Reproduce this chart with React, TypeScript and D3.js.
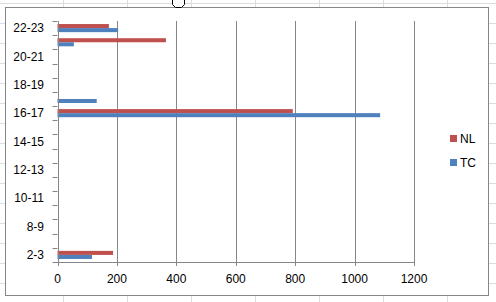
import React from "react";
import * as d3 from "d3";

const categories = ["2-3", "7-8", "8-9", "9-10", "10-11", "11-12", "12-13", "13-14", "14-15", "15-16", "16-17", "17-18", "18-19", "19-20", "20-21", "21-22", "22-23"];
const seriesTC = [116, 0, 0, 0, 0, 0, 0, 0, 0, 0, 1086, 132, 0, 0, 0, 55, 204];
const seriesNL = [187, 0, 0, 0, 0, 0, 0, 0, 0, 0, 792, 0, 0, 0, 0, 365, 173];
const xTicks = [0, 200, 400, 600, 800, 1000, 1200];
const seriesNames = ["NL", "TC"];

const W = 496;
const H = 302;
const RED = "#C0504D";
const BLUE = "#4F81BD";
const AXIS = "#868686";
const SHEET = "#DADCDD";
const FONT = "'Liberation Sans', Arial, sans-serif";

export default function App() {
  const left = 57.5;
  const right = 414;
  const top = 21;
  const bottom = 262;
  const x = d3.scaleLinear().domain([0, 1200]).range([left, right]);
  const y = d3.scaleBand<string>().domain(categories).range([bottom, top]).paddingInner(0).paddingOuter(0);
  const bw = y.bandwidth();
  const barH = bw / 3.5;

  const sheetCols = d3.range(-1, W + 64, 64);
  const sheetRows = d3.range(3, H, 20);

  const r = (v: number) => Math.round(v) + 0.5;

  return (
    <svg width={W} height={H} style={{ position: "absolute", left: 0, top: 0, background: "#fff" }} fontFamily={FONT}>
      {/* spreadsheet grid */}
      {sheetCols.map((c) => (
        <line key={"c" + c} x1={c + 0.5} x2={c + 0.5} y1={0} y2={H} stroke={SHEET} />
      ))}
      {sheetRows.map((rw) => (
        <line key={"r" + rw} x1={0} x2={W} y1={rw + 0.5} y2={rw + 0.5} stroke={SHEET} />
      ))}
      {/* chart area */}
      <rect x={5.5} y={7.5} width={483} height={288} fill="#fff" stroke={AXIS} />
      {/* gridlines */}
      {xTicks.map((t) => (
        <line key={"g" + t} x1={r(x(t))} x2={r(x(t))} y1={top} y2={bottom + 4} stroke={AXIS} />
      ))}
      {/* bars */}
      {categories.map((c, i) => {
        const y0 = (y(c) as number) + bw / 2 - barH;
        return (
          <g key={"b" + c}>
            {seriesNL[i] > 0 && <rect x={x(0)} y={y0} width={x(seriesNL[i]) - x(0)} height={barH} fill={RED} />}
            {seriesTC[i] > 0 && <rect x={x(0)} y={y0 + barH} width={x(seriesTC[i]) - x(0)} height={barH} fill={BLUE} />}
          </g>
        );
      })}
      {/* axes */}
      <line x1={r(x(0))} x2={r(x(0))} y1={top} y2={bottom + 4} stroke={AXIS} />
      <line x1={x(0) - 5} x2={x(1200) + 0.5} y1={r(bottom)} y2={r(bottom)} stroke={AXIS} />
      {categories.map((c) => (
        <line key={"t" + c} x1={x(0) - 5} x2={x(0)} y1={r(y(c) as number)} y2={r(y(c) as number)} stroke={AXIS} />
      ))}
      {categories.map((c, i) =>
        i % 2 === 0 ? (
          <text key={"l" + c} x={44} y={(y(c) as number) + bw / 2} dy="0.35em" textAnchor="end" fontSize={12} fill="#000">
            {c}
          </text>
        ) : null
      )}
      {xTicks.map((t) => (
        <text key={"xl" + t} x={x(t)} y={279} dy="0.35em" textAnchor="middle" fontSize={12} fill="#000">
          {t}
        </text>
      ))}
      {/* legend */}
      {seriesNames.map((s, i) => (
        <g key={"lg" + s} transform={`translate(450, ${135 + i * 24})`}>
          <rect x={0} y={0} width={7} height={7} fill={s === "NL" ? RED : BLUE} />
          <text x={10} y={3.5} dy="0.35em" fontSize={12} fill="#000">
            {s}
          </text>
        </g>
      ))}
      {/* cursor */}
      <path d="M172.5,0 L172.5,4.5 L175.5,7.5 L181.5,7.5 L184.5,4.5 L184.5,0" fill="#fff" stroke="#000" />
    </svg>
  );
}
